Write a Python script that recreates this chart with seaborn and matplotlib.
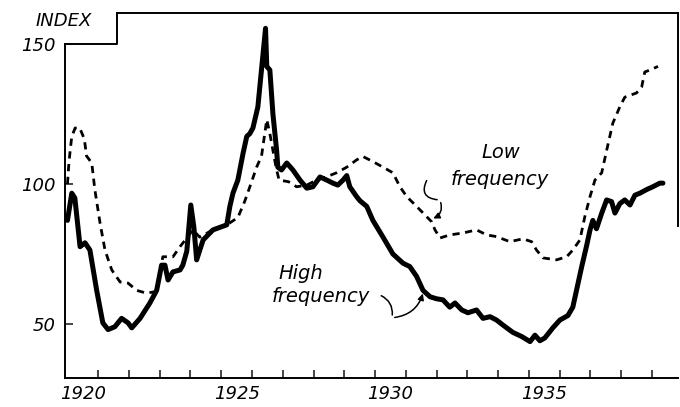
import numpy as np
import pandas as pd
import matplotlib
matplotlib.use("Agg")
import matplotlib.pyplot as plt
import seaborn as sns

# ---- data ----
high_year = [1920.00, 1920.14, 1920.24, 1920.41, 1920.57, 1920.73, 1920.95, 1921.15, 1921.32,
             1921.54, 1921.76, 1921.97, 1922.09, 1922.36, 1922.68, 1922.90, 1923.06, 1923.17,
             1923.27, 1923.43, 1923.66, 1923.75, 1923.88, 1924.01, 1924.11, 1924.20, 1924.41,
             1924.73, 1925.18, 1925.28, 1925.38, 1925.54, 1925.71, 1925.83, 1925.93, 1926.03,
             1926.19, 1926.44, 1926.48, 1926.58, 1926.68, 1926.80, 1926.84, 1926.96, 1927.13,
             1927.33, 1927.56, 1927.78, 1927.98, 1928.21, 1928.43, 1928.63, 1928.79, 1928.96,
             1929.08, 1929.18, 1929.40, 1929.51, 1929.73, 1929.93, 1930.26, 1930.58, 1930.91,
             1931.13, 1931.35, 1931.56, 1931.79, 1932.00, 1932.21, 1932.43, 1932.60, 1932.82,
             1933.02, 1933.30, 1933.51, 1933.74, 1933.95, 1934.16, 1934.48, 1934.77, 1935.04,
             1935.20, 1935.36, 1935.52, 1935.78, 1936.01, 1936.27, 1936.43, 1936.55, 1936.72,
             1936.88, 1936.99, 1937.08, 1937.20, 1937.37, 1937.53, 1937.69, 1937.80, 1937.96,
             1938.12, 1938.29, 1938.45, 1938.61, 1938.83, 1939.03, 1939.26, 1939.36]
high_value = [87.0, 96.7, 95.0, 77.6, 79.0, 76.4, 62.0, 50.4, 48.0,
              49.0, 52.0, 50.4, 48.6, 52.0, 57.5, 62.0, 71.0, 71.0,
              65.7, 68.6, 69.3, 71.0, 76.0, 92.5, 84.6, 72.9, 80.0,
              83.6, 85.4, 92.0, 96.7, 101.4, 111.0, 117.0, 118.0, 120.0,
              127.5, 155.6, 142.0, 140.7, 125.0, 112.0, 106.0, 105.0, 107.5,
              105.0, 101.4, 98.5, 99.0, 102.5, 101.4, 100.3, 99.6, 101.4,
              103.0, 99.0, 95.5, 94.0, 92.0, 87.0, 81.0, 75.0, 71.7,
              70.5, 67.0, 62.0, 59.7, 59.0, 58.6, 56.0, 57.5, 55.0,
              54.0, 55.0, 52.0, 52.6, 51.4, 49.6, 47.0, 45.5, 43.7,
              46.0, 44.0, 45.0, 48.6, 51.4, 53.0, 56.0, 62.0, 70.5,
              78.0, 83.6, 87.0, 84.0, 89.6, 94.3, 93.7, 89.6, 93.0,
              94.3, 92.5, 96.0, 96.7, 98.0, 99.0, 100.3, 100.3]

low_year = [1920.00, 1920.05, 1920.14, 1920.25, 1920.40, 1920.55, 1920.62, 1920.79, 1920.89,
            1921.06, 1921.22, 1921.44, 1921.71, 1921.97, 1922.25, 1922.57, 1922.84, 1922.95,
            1923.10, 1923.43, 1923.66, 1924.08, 1924.30, 1924.73, 1925.18, 1925.54, 1925.77,
            1925.93, 1926.15, 1926.31, 1926.48, 1926.58, 1926.68, 1926.78, 1926.88, 1927.19,
            1927.45, 1927.78, 1928.10, 1928.43, 1928.75, 1929.08, 1929.40, 1929.61, 1929.93,
            1930.26, 1930.58, 1930.81, 1931.03, 1931.35, 1931.68, 1931.84, 1931.95, 1932.11,
            1932.43, 1932.86, 1933.30, 1933.63, 1933.95, 1934.38, 1934.81, 1935.09, 1935.25,
            1935.46, 1935.90, 1936.23, 1936.43, 1936.66, 1936.82, 1936.99, 1937.15, 1937.37,
            1937.53, 1937.73, 1937.96, 1938.12, 1938.50, 1938.67, 1938.77, 1938.94, 1939.20]
low_value = [100.0, 108.0, 117.0, 120.0, 120.0, 116.0, 110.0, 107.5, 98.0,
             86.0, 76.4, 69.3, 65.0, 64.6, 62.0, 61.0, 61.5, 64.5,
             74.0, 74.0, 77.6, 83.6, 81.0, 83.6, 85.4, 88.0, 94.0,
             99.0, 106.0, 110.0, 123.0, 118.0, 112.0, 106.0, 101.4, 100.8,
             99.0, 99.6, 101.4, 102.6, 104.0, 106.0, 108.6, 109.8, 108.0,
             106.0, 104.0, 99.0, 95.5, 92.0, 88.3, 86.5, 83.6, 80.7,
             81.8, 82.5, 83.6, 81.8, 81.2, 79.4, 80.4, 79.4, 76.4,
             73.6, 72.9, 74.0, 76.4, 80.0, 88.3, 95.5, 101.4, 104.0,
             112.0, 121.7, 127.6, 131.0, 132.5, 134.7, 140.0, 140.7, 142.0]

y_ticks = [50, 100, 150]
y_ticklabels = ["50", "100", "150"]
x_label_years = [1920, 1925, 1930, 1935]

# ---- figure ----
sns.set_style("white")
plt.rcParams["font.family"] = ["DejaVu Sans"]
TXT = dict(fontstyle="italic", color="black")

fig = plt.figure(figsize=(6.8, 4.07), dpi=100)
ax = fig.add_axes([65 / 680, 1 - 378 / 407, 613 / 680, 365 / 407])

X0, X1 = 1919.92, 1939.85
Y0, Y1 = 30.7, 161.07
ax.set_xlim(X0, X1)
ax.set_ylim(Y0, Y1)

high_df = pd.DataFrame({"year": high_year, "index": high_value})
low_df = pd.DataFrame({"year": low_year, "index": low_value})

sns.lineplot(data=low_df, x="year", y="index", ax=ax, color="black", lw=2.0,
             estimator=None, sort=False)
ax.lines[-1].set_dashes((2.6, 2.0))
ax.lines[-1].set_dash_capstyle("butt")
sns.lineplot(data=high_df, x="year", y="index", ax=ax, color="black", lw=3.6,
             estimator=None, sort=False)
ax.lines[-1].set_solid_joinstyle("round")
ax.lines[-1].set_solid_capstyle("round")

# ---- frame with notch for the INDEX label ----
x_step = 1921.61
for s in ax.spines.values():
    s.set_linewidth(1.4)
    s.set_color("black")
ax.spines["left"].set_bounds(Y0, 150)
ax.spines["top"].set_bounds(x_step, X1)
ax.spines["right"].set_bounds(85, Y1)
ax.plot([X0, x_step, x_step], [150, 150, Y1], color="black", lw=1.4,
        clip_on=False, solid_capstyle="projecting")

# ---- ticks ----
ax.set_xticks(np.arange(1921, 1940))
ax.set_xticklabels([])
ax.set_xticks([y + 0.5 for y in x_label_years], minor=True)
ax.set_xticklabels([str(y) for y in x_label_years], minor=True, **TXT, fontsize=13)
ax.tick_params(axis="x", which="major", direction="in", length=6, width=1.2, bottom=True)
ax.tick_params(axis="x", which="minor", length=0, pad=5)
ax.set_yticks(y_ticks)
ax.set_yticklabels(y_ticklabels, **TXT, fontsize=13)
ax.tick_params(axis="y", direction="in", length=6, width=1.2, pad=7, left=True)
ax.set_xlabel("")
ax.set_ylabel("")

fig.text(64 / 680, 1 - 21 / 407, "INDEX", ha="center", va="center", fontsize=13, **TXT)

# ---- annotations ----
ax.text(1934.09, 111.1, "Low", ha="center", va="center", fontsize=14, **TXT)
ax.text(1934.06, 101.6, "frequency", ha="center", va="center", fontsize=14, **TXT)
ax.text(1927.59, 67.9, "High", ha="center", va="center", fontsize=14, **TXT)
ax.text(1928.25, 59.8, "frequency", ha="center", va="center", fontsize=14, **TXT)

ax.annotate("", xy=(1932.11, 94.3), xytext=(1931.72, 102.1),
            arrowprops=dict(arrowstyle="-", color="black", lw=1.1,
                            connectionstyle="arc3,rad=0.8"))
ax.annotate("", xy=(1931.81, 87.3), xytext=(1932.11, 94.3),
            arrowprops=dict(arrowstyle="-|>", color="black", lw=1.1, mutation_scale=9,
                            connectionstyle="arc3,rad=-0.5"))
ax.annotate("", xy=(1930.55, 52.2), xytext=(1930.12, 60.5),
            arrowprops=dict(arrowstyle="-", color="black", lw=1.1,
                            connectionstyle="arc3,rad=-0.4"))
ax.annotate("", xy=(1931.58, 61.8), xytext=(1930.55, 52.2),
            arrowprops=dict(arrowstyle="-|>", color="black", lw=1.1, mutation_scale=9,
                            connectionstyle="arc3,rad=0.35"))

fig.savefig("out.png", dpi=100)
